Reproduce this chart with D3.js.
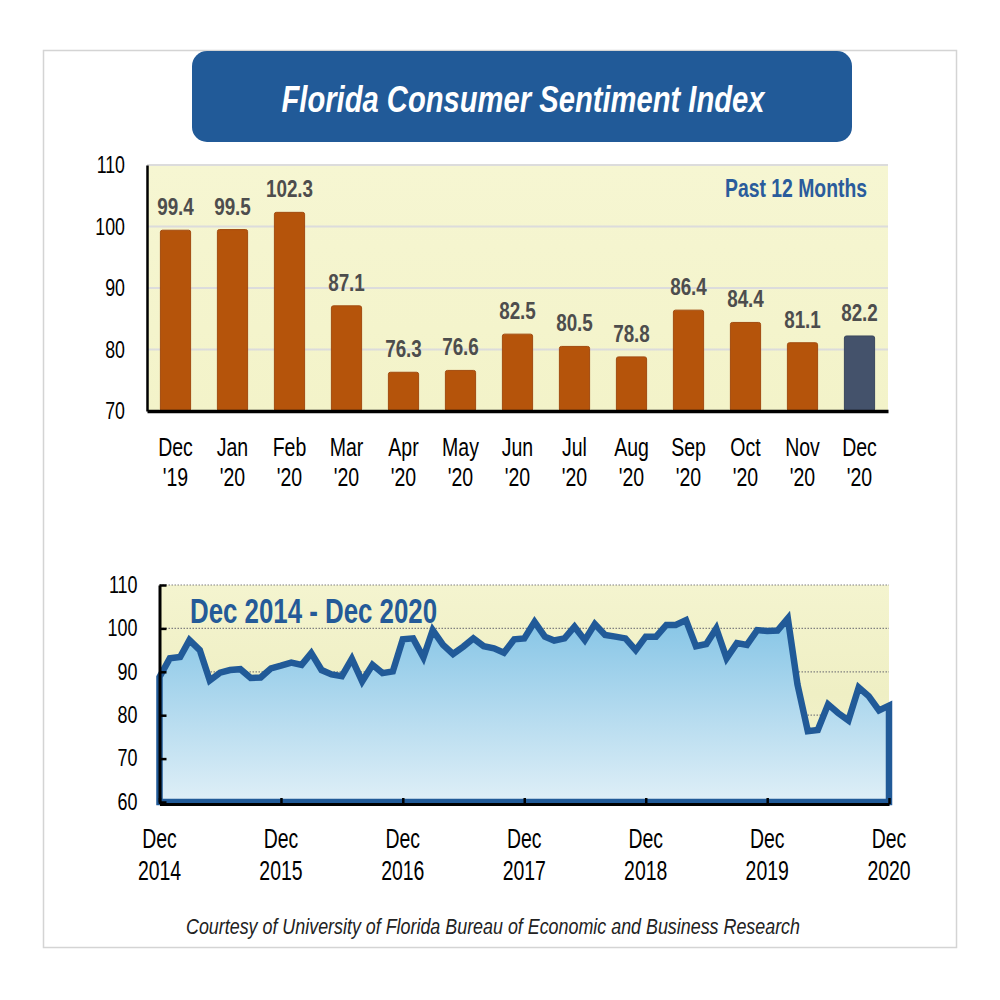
<!DOCTYPE html>
<html>
<head>
<meta charset="utf-8">
<script src="https://cdn.jsdelivr.net/npm/d3@7"></script>
<style>
  html, body { margin: 0; padding: 0; background: #ffffff; }
  svg { display: block; }
  text { font-family: "Liberation Sans", Arial, sans-serif; }
</style>
</head>
<body>
<svg id="chart" width="1000" height="1000"></svg>
<script>
// ---------------- DATA ----------------
const titleText = "Florida Consumer Sentiment Index";
const barMonths = ["Dec", "Jan", "Feb", "Mar", "Apr", "May", "Jun", "Jul", "Aug", "Sep", "Oct", "Nov", "Dec"];
const barYears = ["'19", "'20", "'20", "'20", "'20", "'20", "'20", "'20", "'20", "'20", "'20", "'20", "'20"];
const barValues = [99.4, 99.5, 102.3, 87.1, 76.3, 76.6, 82.5, 80.5, 78.8, 86.4, 84.4, 81.1, 82.2];
const barTicks = [70, 80, 90, 100, 110];

// Monthly index, Dec 2014 through Dec 2020
const lineValues = [
  88.8,                                                             // Dec 2014
  93.1, 93.4, 97.3, 95.0, 88.0, 89.8, 90.4, 90.6, 88.6, 88.7, 90.8, 91.4, // 2015
  92.1, 91.6, 94.3, 90.4, 89.4, 89.0, 93.0, 87.8, 91.6, 89.7, 90.1, 97.5, // 2016
  97.7, 93.3, 99.6, 96.2, 94.1, 95.8, 97.7, 95.9, 95.4, 94.4, 97.5, 97.7, // 2017
  101.5, 98.1, 97.2, 97.7, 100.4, 97.3, 101.0, 98.5, 98.1, 97.7, 95.0, 98.1, // 2018
  98.1, 100.8, 100.8, 101.9, 95.9, 96.4, 100.0, 93.1, 96.6, 96.2, 99.6, 99.4, // 2019
  99.5, 102.3, 87.1, 76.3, 76.6, 82.5, 80.5, 78.8, 86.4, 84.4, 81.1, 82.2  // 2020
];
const lineStartYear = 2014, lineStartMonth = 11; // December 2014
const lineTickYears = [2014, 2015, 2016, 2017, 2018, 2019, 2020];
const lineYTicks = [60, 70, 80, 90, 100, 110];
const lineSubtitle = "Dec 2014 - Dec 2020";
const barSubtitle = "Past 12 Months";
const creditText = "Courtesy of University of Florida Bureau of Economic and Business Research";

// ---------------- HELPERS ----------------
// horizontally condense text (emulates a narrow typeface)
function squeeze(sel, sx) {
  sel.each(function () {
    const t = d3.select(this);
    const x = +t.attr("x") || 0, y = +t.attr("y") || 0;
    t.attr("transform", `translate(${x},${y}) scale(${sx},1)`).attr("x", 0).attr("y", 0);
    t.selectAll("tspan").attr("x", 0);
  });
}

// ---------------- SETUP ----------------
const svg = d3.select("#chart");
const defs = svg.append("defs");

const BLUE = "#215a98";
const BAR = "#b5540b";
const BAR_LAST = "#44526b";

// outer frame
svg.append("rect").attr("x", 43.5).attr("y", 50.5).attr("width", 913).attr("height", 897)
  .attr("fill", "#ffffff").attr("stroke", "#d4d4d4").attr("stroke-width", 1.5);

// title box
svg.append("rect").attr("x", 192).attr("y", 51).attr("width", 660).attr("height", 91)
  .attr("rx", 15).attr("fill", BLUE);
svg.append("text")
  .attr("x", 523).attr("y", 112)
  .attr("text-anchor", "middle")
  .attr("font-size", 37).attr("font-weight", "bold").attr("font-style", "italic")
  .attr("fill", "#ffffff")
  .attr("textLength", 483).attr("lengthAdjust", "spacingAndGlyphs")
  .text(titleText);

// ---------------- BAR CHART ----------------
const bx0 = 147, bx1 = 888, by0 = 411, by1 = 165;
const xb = d3.scaleBand().domain(d3.range(barValues.length)).range([bx0, bx1]).paddingInner(0.47).paddingOuter(0.235);
const yb = d3.scaleLinear().domain([70, 110]).range([by0, by1]);

const bgGrad = defs.append("linearGradient").attr("id", "barBg").attr("x1", 0).attr("y1", 0).attr("x2", 0).attr("y2", 1);
bgGrad.append("stop").attr("offset", "0%").attr("stop-color", "#f6f6d2");
bgGrad.append("stop").attr("offset", "100%").attr("stop-color", "#f3f3c9");

svg.append("rect").attr("x", bx0).attr("y", by1).attr("width", bx1 - bx0).attr("height", by0 - by1)
  .attr("fill", "url(#barBg)");

// gridlines
svg.append("g").selectAll("line").data(barTicks.filter(t => t > 70)).join("line")
  .attr("x1", bx0).attr("x2", bx1)
  .attr("y1", d => yb(d)).attr("y2", d => yb(d))
  .attr("stroke", "#dcdcdc").attr("stroke-width", 2);

// bars
svg.append("g").selectAll("rect").data(barValues).join("rect")
  .attr("x", (d, i) => xb(i)).attr("width", xb.bandwidth())
  .attr("y", d => yb(d)).attr("height", d => yb(70) - yb(d))
  .attr("rx", 2)
  .attr("fill", (d, i) => i === barValues.length - 1 ? BAR_LAST : BAR)
  .attr("stroke", (d, i) => i === barValues.length - 1 ? "#3a475d" : "#a24b10")
  .attr("stroke-width", 1);

// value labels
const valLab = svg.append("g").selectAll("text").data(barValues).join("text")
  .attr("x", (d, i) => xb(i) + xb.bandwidth() / 2)
  .attr("y", d => yb(d) - 15)
  .attr("text-anchor", "middle")
  .attr("font-size", 23).attr("font-weight", "bold").attr("fill", "#4d4d4d")
  .text(d => d.toFixed(1));
squeeze(valLab, 0.82);

// y axis
const yAxisB = svg.append("g").attr("transform", `translate(${bx0},0)`)
  .call(d3.axisLeft(yb).tickValues(barTicks).tickSize(0).tickPadding(22).tickFormat(d3.format("d")));
yAxisB.select(".domain").attr("stroke", "#000").attr("stroke-width", 2.5);
yAxisB.selectAll("text").attr("font-size", 24).attr("fill", "#000").attr("font-family", null);
squeeze(yAxisB.selectAll("text"), 0.74);

// x axis
const xAxisB = svg.append("g").attr("transform", `translate(0,${by0})`)
  .call(d3.axisBottom(xb).tickSize(0).tickFormat(() => ""));
xAxisB.select(".domain").attr("stroke", "#000").attr("stroke-width", 3.5);
xAxisB.selectAll(".tick text").remove();
const xbLab = svg.append("g").selectAll("text").data(barMonths).join("text")
  .attr("x", (d, i) => xb(i) + xb.bandwidth() / 2)
  .attr("y", 456)
  .attr("text-anchor", "middle").attr("font-size", 25).attr("fill", "#000");
xbLab.append("tspan").text(d => d);
xbLab.append("tspan").attr("dy", 30).text((d, i) => barYears[i]);
squeeze(xbLab, 0.78);

svg.append("text")
  .attr("x", 867).attr("y", 197)
  .attr("text-anchor", "end")
  .attr("font-size", 25).attr("font-weight", "bold").attr("fill", "#2a5c9c")
  .attr("textLength", 142).attr("lengthAdjust", "spacingAndGlyphs")
  .text(barSubtitle);

// ---------------- LINE CHART ----------------
const lx0 = 159.5, lx1 = 889, ly0 = 802, ly1 = 585;
const lineData = lineValues.map((v, i) => ({ date: new Date(lineStartYear, lineStartMonth + i, 1), value: v }));
const xl = d3.scaleTime().domain([lineData[0].date, lineData[lineData.length - 1].date]).range([lx0, lx1]);
const yl = d3.scaleLinear().domain([60, 110]).range([ly0, ly1]);

const lbg = defs.append("linearGradient").attr("id", "lineBg").attr("x1", 0).attr("y1", 0).attr("x2", 0).attr("y2", 1);
lbg.append("stop").attr("offset", "0%").attr("stop-color", "#f4f4cf");
lbg.append("stop").attr("offset", "50%").attr("stop-color", "#efefc4");
lbg.append("stop").attr("offset", "100%").attr("stop-color", "#f4f4cf");

svg.append("rect").attr("x", lx0).attr("y", ly1).attr("width", lx1 - lx0).attr("height", ly0 - ly1)
  .attr("fill", "url(#lineBg)");

// dotted gridlines
svg.append("g").selectAll("line").data(lineYTicks.filter(t => t > 60)).join("line")
  .attr("x1", lx0).attr("x2", lx1)
  .attr("y1", d => yl(d)).attr("y2", d => yl(d))
  .attr("stroke", "#808080").attr("stroke-width", 1.2).attr("stroke-dasharray", "1.5,1.5");

// area fill
const areaGrad = defs.append("linearGradient").attr("id", "areaFill").attr("gradientUnits", "userSpaceOnUse")
  .attr("x1", 0).attr("y1", yl(102)).attr("x2", 0).attr("y2", ly0);
areaGrad.append("stop").attr("offset", "0%").attr("stop-color", "#86c5e6");
areaGrad.append("stop").attr("offset", "100%").attr("stop-color", "#dfeff7");

const area = d3.area().x(d => xl(d.date)).y0(yl(60)).y1(d => yl(d.value)).curve(d3.curveLinear);
svg.append("path").datum(lineData).attr("d", area)
  .attr("fill", "url(#areaFill)")
  .attr("stroke", BLUE).attr("stroke-width", 6.5).attr("stroke-linejoin", "miter").attr("stroke-miterlimit", 3);

svg.append("text")
  .attr("x", 190).attr("y", 623)
  .attr("font-size", 35).attr("font-weight", "bold").attr("fill", "#245a98")
  .attr("textLength", 247).attr("lengthAdjust", "spacingAndGlyphs")
  .text(lineSubtitle);

// y axis
const yAxisL = svg.append("g").attr("transform", `translate(${lx0},0)`)
  .call(d3.axisLeft(yl).tickValues(lineYTicks).tickSizeInner(-7).tickSizeOuter(0).tickPadding(22).tickFormat(d3.format("d")));
yAxisL.select(".domain").attr("stroke", "#000").attr("stroke-width", 3);
yAxisL.selectAll(".tick line").attr("stroke", "#000").attr("stroke-width", 2.5);
yAxisL.selectAll("text").attr("font-size", 23).attr("fill", "#000").attr("font-family", null);
squeeze(yAxisL.selectAll("text"), 0.78);

// x axis
const lineTickDates = lineTickYears.map(y => new Date(y, 11, 1));
const xAxisL = svg.append("g").attr("transform", `translate(0,${ly0 + 2})`)
  .call(d3.axisBottom(xl).tickValues(lineTickDates).tickSizeInner(-6).tickSizeOuter(0).tickFormat(() => ""));
xAxisL.select(".domain").attr("stroke", "#000").attr("stroke-width", 3);
xAxisL.selectAll(".tick line").attr("stroke", "#000").attr("stroke-width", 2.5);
xAxisL.selectAll(".tick text").remove();
const xlLab = svg.append("g").selectAll("text").data(lineTickDates).join("text")
  .attr("x", d => xl(d)).attr("y", 848)
  .attr("text-anchor", "middle").attr("font-size", 27).attr("fill", "#000");
xlLab.append("tspan").text("Dec");
xlLab.append("tspan").attr("dy", 32).text(d => d3.timeFormat("%Y")(d));
squeeze(xlLab, 0.72);

// credit
svg.append("text")
  .attr("x", 493).attr("y", 934)
  .attr("text-anchor", "middle")
  .attr("font-size", 22).attr("font-style", "italic").attr("fill", "#222")
  .attr("textLength", 614).attr("lengthAdjust", "spacingAndGlyphs")
  .text(creditText);
</script>
</body>
</html>
